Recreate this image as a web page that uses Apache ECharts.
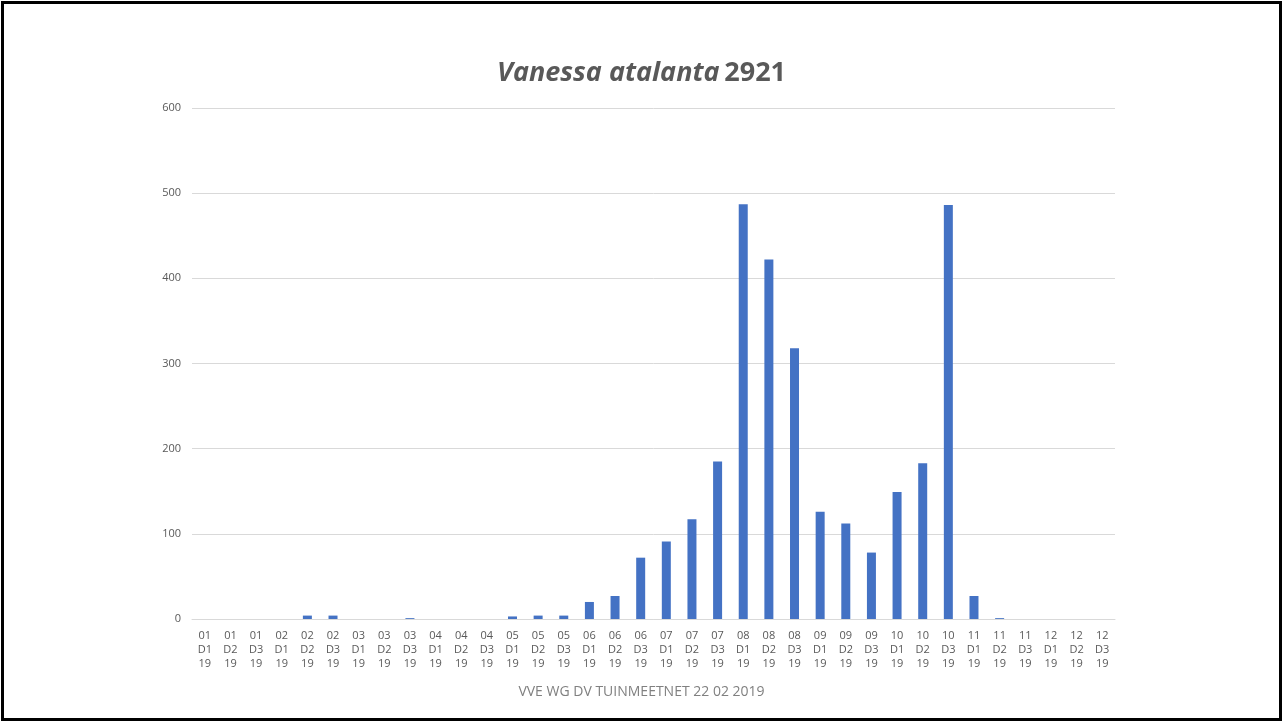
<!DOCTYPE html>
<html>
<head>
<meta charset="utf-8">
<script src="https://cdn.jsdelivr.net/npm/echarts@6/dist/echarts.min.js"></script>
<style>
html, body { margin: 0; padding: 0; background: #fff; }
.frame {
    position: absolute; left: 1px; top: 1px;
    width: 1275px; height: 714px;
    border: 3px solid #000;
}
.chart { position: absolute; left: 0; top: 0; width: 1283px; height: 722px; }
</style>
</head>
<body>
<div class="chart" id="chart"></div>
<div class="frame"></div>
<script>
// categorieën: maand + decade + jaar
const months = ['01','02','03','04','05','06','07','08','09','10','11','12'];
const decades = ['D1','D2','D3'];
const categories = [];
months.forEach(m => decades.forEach(d => categories.push(m + '\n' + d + '\n19')));

const counts = [
    0, 0, 0,
    0, 4, 4,
    0, 0, 1,
    0, 0, 0,
    3, 4, 4,
    20, 27, 72,
    91, 117, 185,
    487, 422, 318,
    126, 112, 78,
    149, 183, 486,
    27, 1, 0,
    0, 0, 0
];

const yTicks = [0, 100, 200, 300, 400, 500, 600];

const myChart = echarts.init(document.getElementById('chart'));
const option = {
    backgroundColor: '#fff',
    textStyle: { fontFamily: 'Open Sans' },
    title: [
        {
            text: '{i|Vanessa atalanta} {b|2921}',
            left: 'center',
            top: 55,
            textStyle: {
                rich: {
                    i: { fontSize: 27, fontStyle: 'italic', fontWeight: 'bold', color: '#595959', fontFamily: 'Open Sans' },
                    b: { fontSize: 27, fontWeight: 'bold', color: '#595959', fontFamily: 'Open Sans' }
                }
            }
        },
        {
            text: 'VVE WG DV TUINMEETNET 22 02 2019',
            left: 'center',
            top: 680,
            textStyle: { fontSize: 14, fontWeight: 'normal', color: '#808080', fontFamily: 'Open Sans' }
        }
    ],
    grid: { left: 192, right: 168, top: 108, bottom: 103 },
    xAxis: {
        type: 'category',
        data: categories,
        axisLine: { lineStyle: { color: '#D9D9D9' } },
        axisTick: { show: false },
        axisLabel: { color: '#595959', fontSize: 11, lineHeight: 14, margin: 10, interval: 0 }
    },
    yAxis: {
        type: 'value',
        min: yTicks[0],
        max: yTicks[yTicks.length - 1],
        interval: 100,
        axisLine: { show: false },
        axisTick: { show: false },
        axisLabel: { color: '#595959', fontSize: 11, margin: 11 },
        splitLine: { lineStyle: { color: '#D9D9D9' } }
    },
    series: [
        {
            type: 'bar',
            data: counts,
            barWidth: 9,
            itemStyle: { color: '#4472C4' }
        }
    ]
};
myChart.setOption(option);
</script>
</body>
</html>
